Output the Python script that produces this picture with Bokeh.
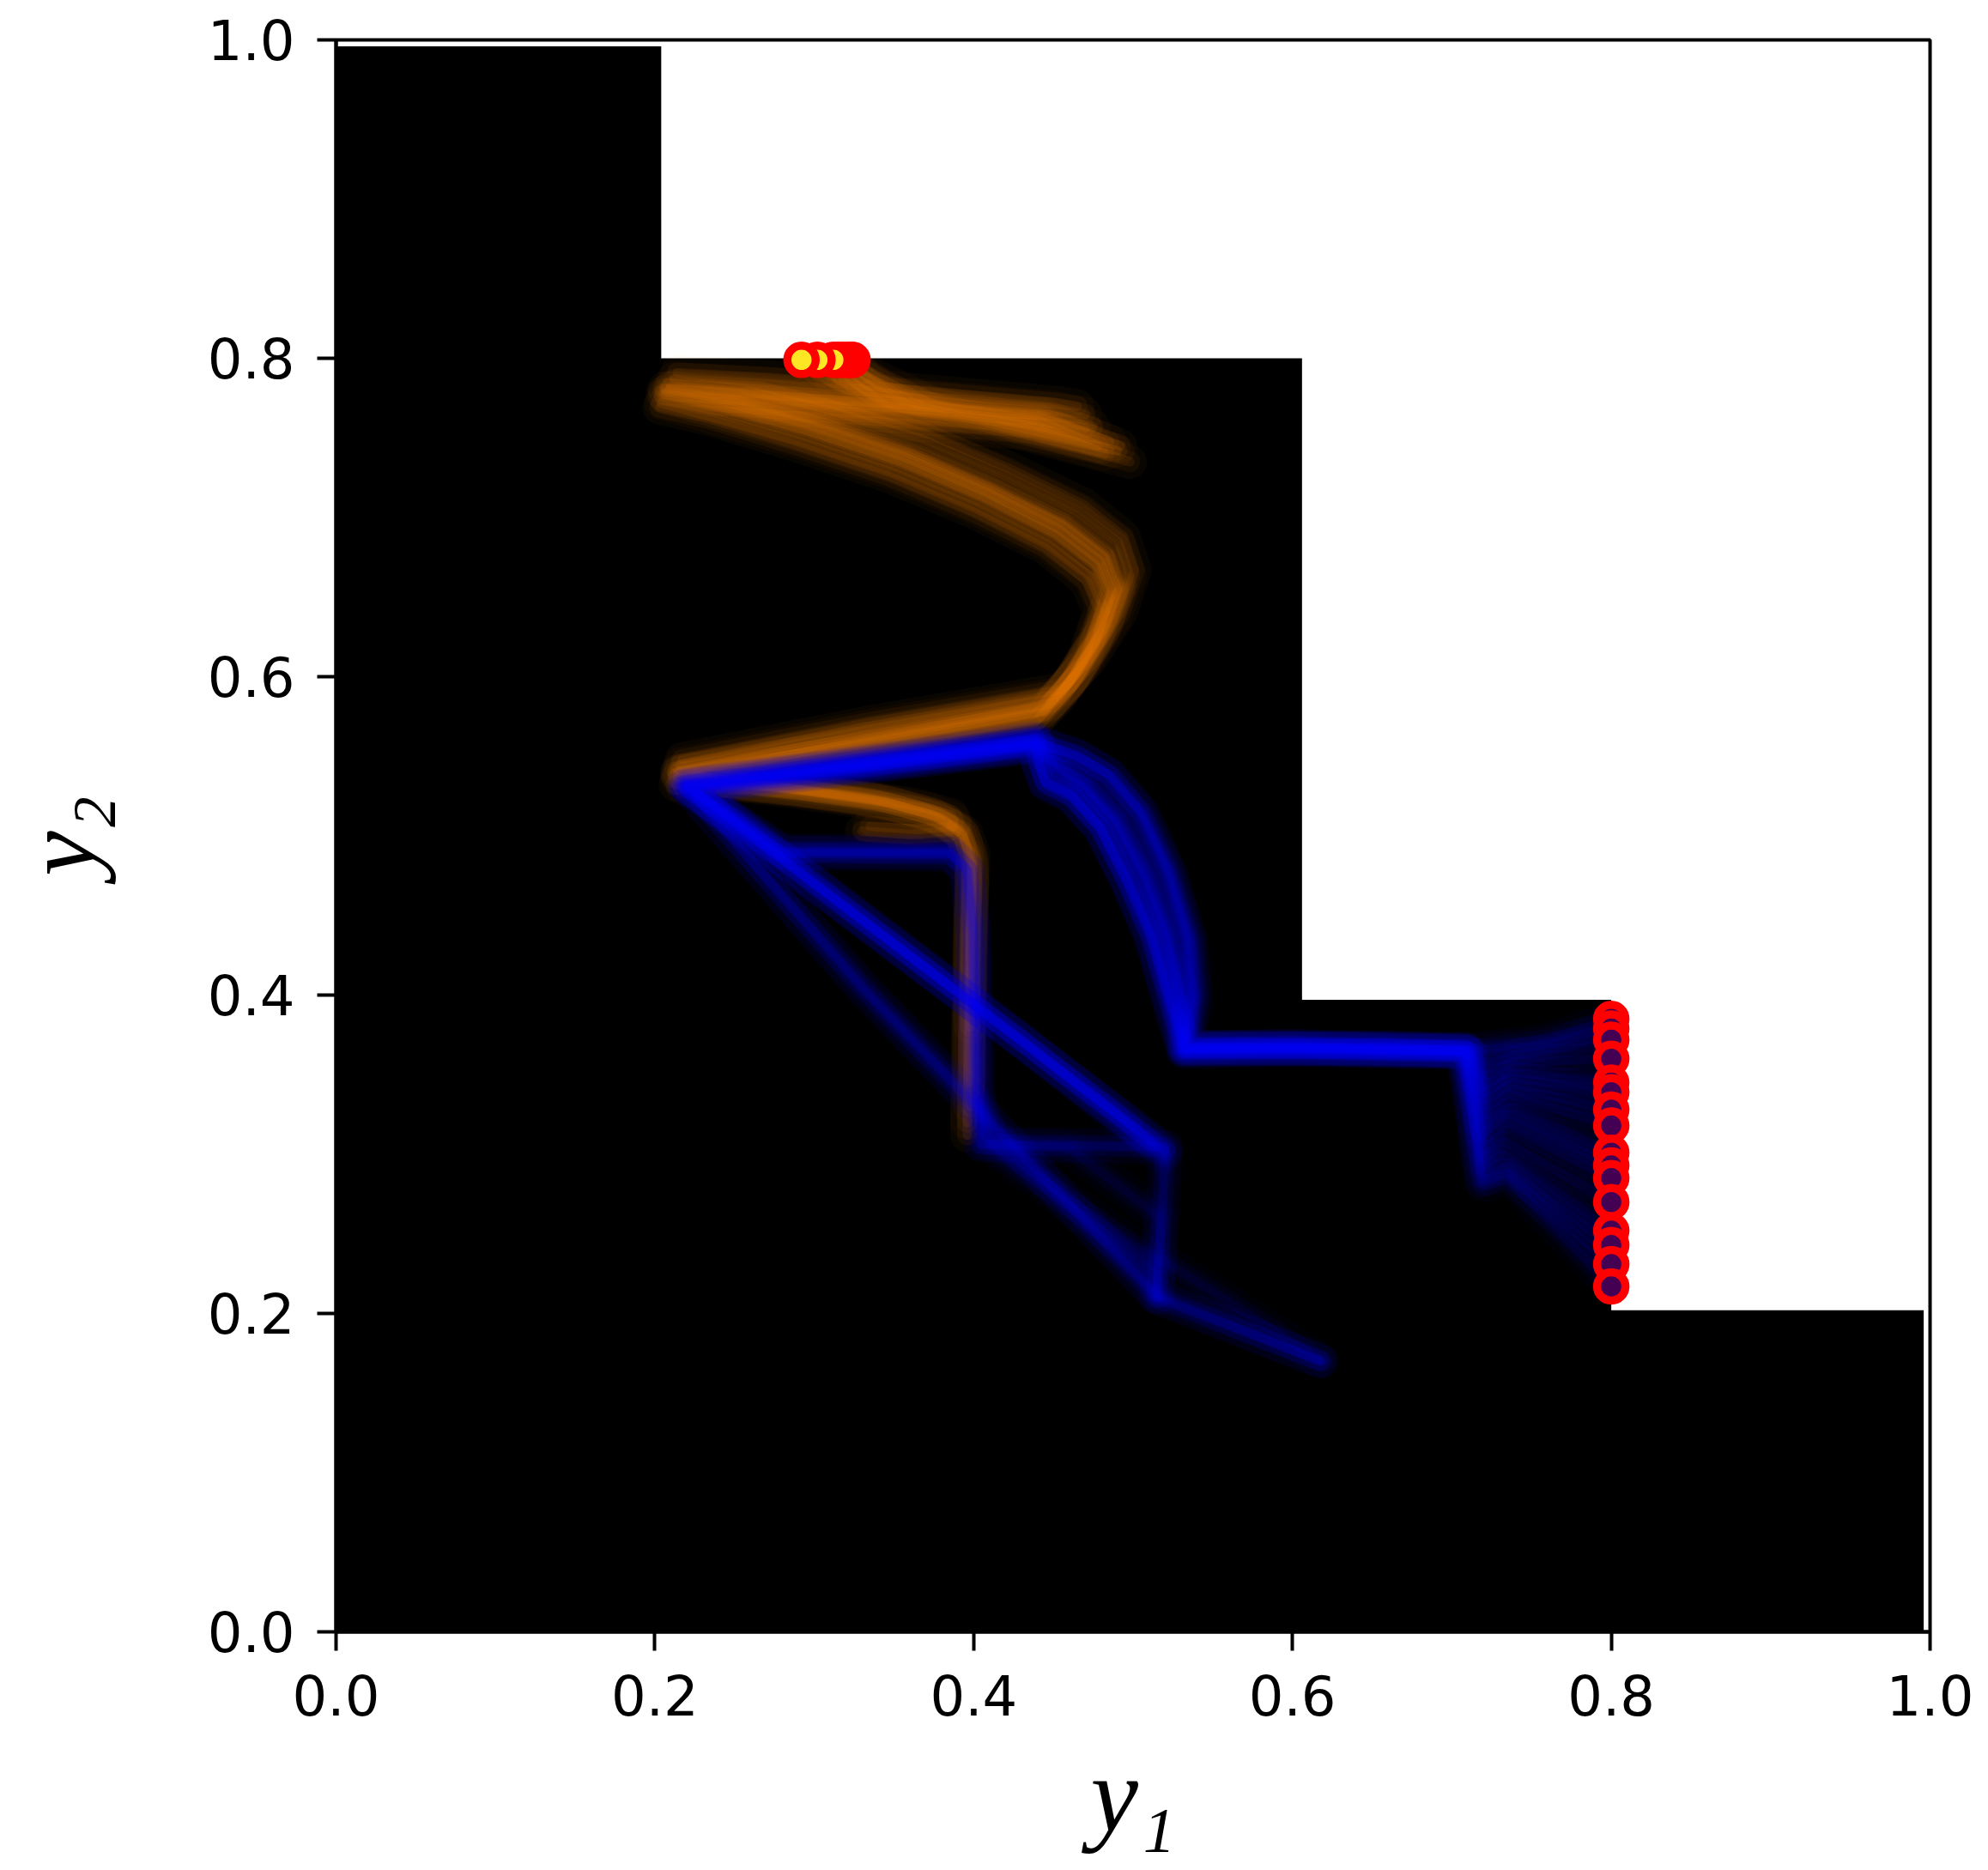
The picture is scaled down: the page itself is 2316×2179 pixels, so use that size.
from bokeh.plotting import figure
from bokeh.models import Range1d, FixedTicker, PrintfTickFormatter
from bokeh.embed import file_html
from bokeh.resources import INLINE

# ---- dominated region (staircase) ----
step_x = [0.0, 0.0, 0.204, 0.204, 0.606, 0.606, 0.800, 0.800, 0.996, 0.996]
step_y = [0.0, 0.996, 0.996, 0.800, 0.800, 0.397, 0.397, 0.202, 0.202, 0.0]

# ---- orange trajectories ----
orange_1 = [(0.396,0.312),(0.397,0.400),(0.398,0.480),(0.394,0.500),(0.380,0.511),(0.350,0.520),(0.290,0.529),(0.240,0.534),(0.214,0.540),(0.330,0.561),(0.446,0.581),(0.463,0.600),(0.480,0.628),(0.490,0.655),(0.482,0.675),(0.456,0.695),(0.410,0.717),(0.358,0.739),(0.298,0.759),(0.244,0.774),(0.206,0.781),(0.262,0.778),(0.352,0.771),(0.442,0.763),(0.485,0.748),(0.402,0.766),(0.330,0.776),(0.300,0.790),(0.292,0.799)]
orange_2 = [(0.398,0.330),(0.398,0.420),(0.399,0.485),(0.392,0.503),(0.375,0.513),(0.340,0.522),(0.285,0.530),(0.235,0.536),(0.216,0.545),(0.330,0.568),(0.452,0.589),(0.470,0.608),(0.488,0.636),(0.498,0.663),(0.491,0.684),(0.465,0.704),(0.418,0.727),(0.368,0.749),(0.308,0.768),(0.252,0.781),(0.212,0.787),(0.270,0.784),(0.360,0.777),(0.450,0.769),(0.470,0.765),(0.390,0.772),(0.320,0.782),(0.302,0.799)]
orange_3 = [(0.330,0.503),(0.360,0.501),(0.385,0.503),(0.388,0.510),(0.370,0.517),(0.330,0.524),(0.270,0.531),(0.222,0.534),(0.213,0.532),(0.330,0.553),(0.440,0.573),(0.455,0.589),(0.471,0.615),(0.481,0.644),(0.473,0.663),(0.446,0.683),(0.401,0.706),(0.349,0.728),(0.289,0.748),(0.236,0.763),(0.204,0.772),(0.258,0.768),(0.348,0.762),(0.438,0.756),(0.498,0.735),(0.410,0.758),(0.350,0.770),(0.318,0.788),(0.312,0.799)]
orange_4 = [(0.218,0.530),(0.330,0.551),(0.438,0.571),(0.453,0.586),(0.469,0.611),(0.479,0.641),(0.471,0.660),(0.445,0.681),(0.399,0.704),(0.347,0.726),(0.287,0.746),(0.234,0.762),(0.203,0.769),(0.256,0.766),(0.345,0.760),(0.435,0.753),(0.490,0.742),(0.405,0.760),(0.345,0.770),(0.322,0.787),(0.318,0.799)]
orange_5 = [(0.397,0.345),(0.398,0.440),(0.400,0.488),(0.395,0.502),(0.378,0.512),(0.345,0.521),(0.288,0.529),(0.238,0.535),(0.215,0.541),(0.332,0.563),(0.448,0.583),(0.465,0.602),(0.482,0.630),(0.492,0.657),(0.485,0.677),(0.459,0.697),(0.412,0.719),(0.362,0.741),(0.302,0.761),(0.247,0.775),(0.210,0.782),(0.266,0.779),(0.356,0.772),(0.446,0.765),(0.475,0.757),(0.395,0.768),(0.355,0.776),(0.330,0.790),(0.321,0.799)]
orange_6 = [(0.335,0.506),(0.365,0.504),(0.388,0.506),(0.386,0.513),(0.365,0.519),(0.320,0.526),(0.265,0.532),(0.220,0.538),(0.214,0.539),(0.331,0.559),(0.444,0.579),(0.460,0.596),(0.476,0.622),(0.486,0.650),(0.478,0.670),(0.452,0.690),(0.407,0.713),(0.355,0.735),(0.295,0.755),(0.241,0.770),(0.205,0.778),(0.259,0.774),(0.349,0.768),(0.440,0.761),(0.478,0.745),(0.398,0.764),(0.360,0.770),(0.335,0.786),(0.323,0.799)]
orange_7 = [(0.217,0.548),(0.333,0.571),(0.455,0.592),(0.474,0.612),(0.492,0.640),(0.501,0.667),(0.494,0.688),(0.469,0.708),(0.422,0.731),(0.372,0.752),(0.312,0.771),(0.257,0.785),(0.214,0.791),(0.272,0.788),(0.362,0.780),(0.452,0.772),(0.465,0.770),(0.392,0.776),(0.345,0.782),(0.328,0.792),(0.324,0.799)]
orange_8 = [(0.398,0.380),(0.399,0.470),(0.398,0.490),(0.390,0.504),(0.372,0.514),(0.338,0.523),(0.282,0.531),(0.232,0.537),(0.216,0.540),(0.329,0.558),(0.443,0.578),(0.459,0.595),(0.475,0.621),(0.485,0.649),(0.477,0.669),(0.451,0.689),(0.406,0.712),(0.354,0.734),(0.294,0.754),(0.240,0.769),(0.206,0.777),(0.260,0.773),(0.347,0.767),(0.437,0.759),(0.482,0.740),(0.404,0.761),(0.370,0.769),(0.330,0.785),(0.315,0.799)]
orange_9 = [(0.214,0.536),(0.328,0.557),(0.444,0.578),(0.461,0.597),(0.477,0.624),(0.487,0.653),(0.479,0.673),(0.453,0.693),(0.408,0.716),(0.357,0.738),(0.297,0.758),(0.243,0.773),(0.207,0.779),(0.261,0.775),(0.351,0.769),(0.441,0.762),(0.470,0.756),(0.400,0.767),(0.340,0.775),(0.310,0.789),(0.318,0.799)]
orange_10 = [(0.396,0.320),(0.397,0.410),(0.399,0.482),(0.393,0.501),(0.377,0.511),(0.342,0.520),(0.286,0.528),(0.236,0.534),(0.215,0.537),(0.330,0.560),(0.446,0.582),(0.464,0.601),(0.481,0.629),(0.491,0.656),(0.483,0.676),(0.457,0.696),(0.411,0.718),(0.360,0.740),(0.300,0.760),(0.246,0.774),(0.209,0.781),(0.264,0.777),(0.354,0.771),(0.444,0.764),(0.492,0.745),(0.406,0.764),(0.375,0.771),(0.338,0.789),(0.322,0.799)]

# ---- blue trajectories ----
blue_1 = [(0.800,0.385),(0.760,0.372),(0.712,0.366),(0.660,0.366),(0.600,0.367),(0.533,0.366),(0.524,0.395),(0.512,0.437),(0.497,0.472),(0.480,0.505),(0.462,0.525),(0.446,0.533),(0.441,0.546),(0.439,0.560),(0.221,0.531),(0.300,0.470),(0.400,0.394),(0.520,0.302)]
blue_2 = [(0.800,0.379),(0.750,0.368),(0.710,0.365),(0.660,0.365),(0.600,0.366),(0.532,0.365),(0.523,0.396),(0.511,0.438),(0.496,0.473),(0.479,0.506),(0.461,0.526),(0.445,0.534),(0.440,0.547),(0.438,0.561),(0.219,0.532),(0.280,0.490),(0.385,0.489),(0.396,0.478),(0.400,0.440),(0.402,0.340),(0.405,0.306),(0.520,0.304),(0.517,0.250),(0.514,0.210),(0.618,0.170)]
blue_3 = [(0.800,0.372),(0.740,0.362),(0.722,0.357),(0.712,0.364),(0.660,0.367),(0.600,0.368),(0.534,0.367),(0.530,0.398),(0.522,0.437),(0.508,0.476),(0.490,0.510),(0.470,0.532),(0.452,0.545),(0.440,0.557),(0.222,0.530),(0.300,0.469),(0.460,0.348),(0.515,0.305)]
blue_4 = [(0.800,0.360),(0.738,0.358),(0.720,0.350),(0.710,0.365),(0.660,0.366),(0.600,0.367),(0.533,0.368),(0.538,0.400),(0.535,0.435),(0.522,0.478),(0.505,0.515),(0.485,0.538),(0.465,0.550),(0.442,0.558),(0.220,0.532),(0.300,0.471),(0.400,0.395),(0.520,0.300)]
blue_5 = [(0.800,0.345),(0.736,0.352),(0.721,0.343),(0.711,0.364),(0.660,0.364),(0.600,0.365),(0.531,0.364),(0.522,0.397),(0.510,0.439),(0.495,0.474),(0.478,0.507),(0.460,0.527),(0.444,0.535),(0.440,0.548),(0.438,0.562),(0.218,0.533),(0.280,0.491),(0.384,0.491),(0.395,0.480),(0.399,0.442),(0.401,0.340),(0.410,0.305),(0.515,0.225),(0.517,0.210)]
blue_6 = [(0.800,0.339),(0.735,0.348),(0.720,0.338),(0.709,0.365),(0.660,0.367),(0.600,0.366),(0.532,0.366),(0.529,0.397),(0.521,0.436),(0.507,0.475),(0.489,0.509),(0.469,0.531),(0.451,0.544),(0.441,0.556),(0.221,0.530),(0.300,0.469),(0.420,0.380),(0.510,0.310)]
blue_7 = [(0.800,0.328),(0.734,0.343),(0.722,0.333),(0.712,0.363),(0.660,0.365),(0.600,0.367),(0.534,0.367),(0.540,0.398),(0.537,0.432),(0.524,0.476),(0.507,0.513),(0.487,0.537),(0.467,0.549),(0.443,0.557),(0.222,0.529),(0.330,0.405),(0.515,0.210)]
blue_8 = [(0.800,0.318),(0.735,0.338),(0.721,0.325),(0.710,0.364),(0.660,0.366),(0.600,0.368),(0.532,0.367),(0.523,0.394),(0.511,0.437),(0.496,0.472),(0.479,0.505),(0.461,0.525),(0.445,0.533),(0.441,0.546),(0.439,0.561),(0.219,0.531),(0.281,0.489),(0.386,0.488),(0.397,0.477),(0.401,0.439),(0.403,0.339),(0.405,0.306),(0.460,0.304),(0.517,0.260),(0.515,0.212),(0.617,0.170)]
blue_9 = [(0.800,0.301),(0.736,0.330),(0.720,0.318),(0.708,0.364),(0.660,0.365),(0.600,0.366),(0.533,0.365),(0.531,0.399),(0.523,0.438),(0.509,0.477),(0.491,0.511),(0.471,0.533),(0.453,0.546),(0.439,0.558),(0.220,0.531),(0.300,0.470),(0.500,0.318)]
blue_10 = [(0.800,0.293),(0.734,0.325),(0.719,0.312),(0.709,0.365),(0.660,0.367),(0.600,0.367),(0.532,0.366),(0.536,0.401),(0.533,0.437),(0.520,0.480),(0.503,0.516),(0.483,0.539),(0.463,0.551),(0.441,0.559),(0.218,0.532),(0.279,0.490),(0.385,0.490),(0.395,0.479),(0.399,0.441),(0.401,0.341),(0.404,0.307),(0.521,0.305),(0.518,0.250),(0.515,0.211)]
blue_11 = [(0.800,0.285),(0.735,0.318),(0.720,0.302),(0.708,0.365),(0.660,0.366),(0.600,0.366),(0.533,0.367),(0.524,0.397),(0.512,0.438),(0.497,0.471),(0.480,0.504),(0.462,0.524),(0.446,0.532),(0.441,0.545),(0.439,0.559),(0.221,0.532),(0.300,0.471),(0.440,0.364),(0.518,0.298)]
blue_12 = [(0.800,0.270),(0.733,0.308),(0.719,0.296),(0.707,0.365),(0.660,0.365),(0.600,0.367),(0.531,0.366),(0.528,0.396),(0.520,0.436),(0.506,0.474),(0.488,0.508),(0.468,0.530),(0.450,0.543),(0.440,0.556),(0.220,0.530),(0.332,0.404),(0.514,0.213)]
blue_13 = [(0.800,0.252),(0.732,0.300),(0.718,0.290),(0.706,0.365),(0.660,0.366),(0.600,0.368),(0.533,0.367),(0.539,0.399),(0.536,0.434),(0.523,0.477),(0.506,0.514),(0.486,0.538),(0.466,0.550),(0.442,0.558),(0.219,0.531),(0.300,0.470),(0.400,0.394),(0.520,0.303)]
blue_14 = [(0.800,0.243),(0.733,0.292),(0.719,0.285),(0.707,0.366),(0.660,0.367),(0.600,0.366),(0.532,0.365),(0.523,0.395),(0.511,0.436),(0.496,0.471),(0.479,0.505),(0.461,0.525),(0.445,0.533),(0.440,0.546),(0.438,0.560),(0.219,0.532),(0.280,0.489),(0.386,0.489),(0.396,0.479),(0.400,0.440),(0.402,0.341),(0.412,0.306),(0.516,0.232),(0.518,0.234),(0.617,0.171)]
blue_15 = [(0.800,0.231),(0.734,0.288),(0.718,0.283),(0.708,0.366),(0.660,0.366),(0.600,0.367),(0.534,0.366),(0.530,0.397),(0.522,0.436),(0.508,0.475),(0.490,0.509),(0.470,0.531),(0.452,0.544),(0.440,0.557),(0.222,0.531),(0.300,0.470),(0.480,0.333),(0.512,0.308)]
blue_16 = [(0.800,0.217),(0.735,0.285),(0.720,0.280),(0.709,0.366),(0.660,0.365),(0.600,0.366),(0.532,0.367),(0.537,0.400),(0.534,0.436),(0.521,0.479),(0.504,0.515),(0.484,0.539),(0.464,0.551),(0.441,0.558),(0.221,0.530),(0.328,0.406),(0.515,0.210),(0.618,0.170)]

# ---- final points (markers) ----
orange_end_x = [0.324, 0.323, 0.321, 0.318, 0.315, 0.312, 0.302, 0.292]
orange_end_y = [0.799, 0.799, 0.799, 0.799, 0.799, 0.799, 0.799, 0.799]
blue_end_x = [0.800] * 16
blue_end_y = [0.385, 0.379, 0.372, 0.360, 0.345, 0.339, 0.328, 0.318,
              0.301, 0.293, 0.285, 0.270, 0.252, 0.243, 0.231, 0.217]

x_ticks = [0.0, 0.2, 0.4, 0.6, 0.8, 1.0]
y_ticks = [0.0, 0.2, 0.4, 0.6, 0.8, 1.0]
x_title = "y₁"
y_title = "y₂"

orange_runs = [orange_1, orange_2, orange_3, orange_4, orange_5,
               orange_6, orange_7, orange_8, orange_9, orange_10]
blue_runs = [blue_1, blue_2, blue_3, blue_4, blue_5, blue_6, blue_7, blue_8,
             blue_9, blue_10, blue_11, blue_12, blue_13, blue_14, blue_15, blue_16]

p = figure(width=2308, height=2171,
           x_range=Range1d(0, 1), y_range=Range1d(0, 1),
           output_backend="svg", toolbar_location=None,
           min_border_left=391, min_border_right=60,
           min_border_top=46, min_border_bottom=270)
p.background_fill_color = "white"
p.border_fill_color = "white"
p.xgrid.visible = False
p.ygrid.visible = False
p.outline_line_color = "black"
p.outline_line_width = 4
p.outline_line_alpha = 1.0

p.patch(step_x, step_y, fill_color="black", line_color=None)

def draw_runs(runs, color):
    xs = [[pt[0] for pt in r] for r in runs]
    ys = [[pt[1] for pt in r] for r in runs]
    # layered translucent strokes to mimic the soft, blurred bundles
    for width, alpha in ((40, 0.035), (24, 0.06), (11, 0.09)):
        p.multi_line(xs, ys, line_color=color, line_alpha=alpha, line_width=width,
                     line_join="round", line_cap="round")

draw_runs(orange_runs, "#ff8000")
draw_runs(blue_runs, "#0000ff")

p.scatter(orange_end_x, orange_end_y, size=33, fill_color="#fde725",
          line_color="#ff0000", line_width=9.5)
p.scatter(blue_end_x, blue_end_y, size=33, fill_color="#440154",
          line_color="#ff0000", line_width=9.5)

for ax, ticks in ((p.xaxis, x_ticks), (p.yaxis, y_ticks)):
    ax.ticker = FixedTicker(ticks=ticks)
    ax.formatter = PrintfTickFormatter(format="%.1f")
    ax.minor_tick_line_color = None
    ax.major_tick_in = 0
    ax.major_tick_out = 22
    ax.major_tick_line_width = 4
    ax.axis_line_width = 4
    ax.major_label_text_font = "DejaVu Sans"
    ax.major_label_text_font_size = "64px"
    ax.major_label_text_color = "black"
    ax.axis_label_text_font = "Liberation Serif"
    ax.axis_label_text_font_style = "italic"
    ax.axis_label_text_color = "black"

p.xaxis.axis_label = x_title
p.yaxis.axis_label = y_title
p.xaxis.axis_label_text_font_size = "125px"
p.yaxis.axis_label_text_font_size = "118px"
p.xaxis.major_label_standoff = 28
p.yaxis.major_label_standoff = 26
p.xaxis.axis_label_standoff = 20
p.yaxis.axis_label_standoff = 103

open("out.html", "w").write(file_html(p, INLINE))
